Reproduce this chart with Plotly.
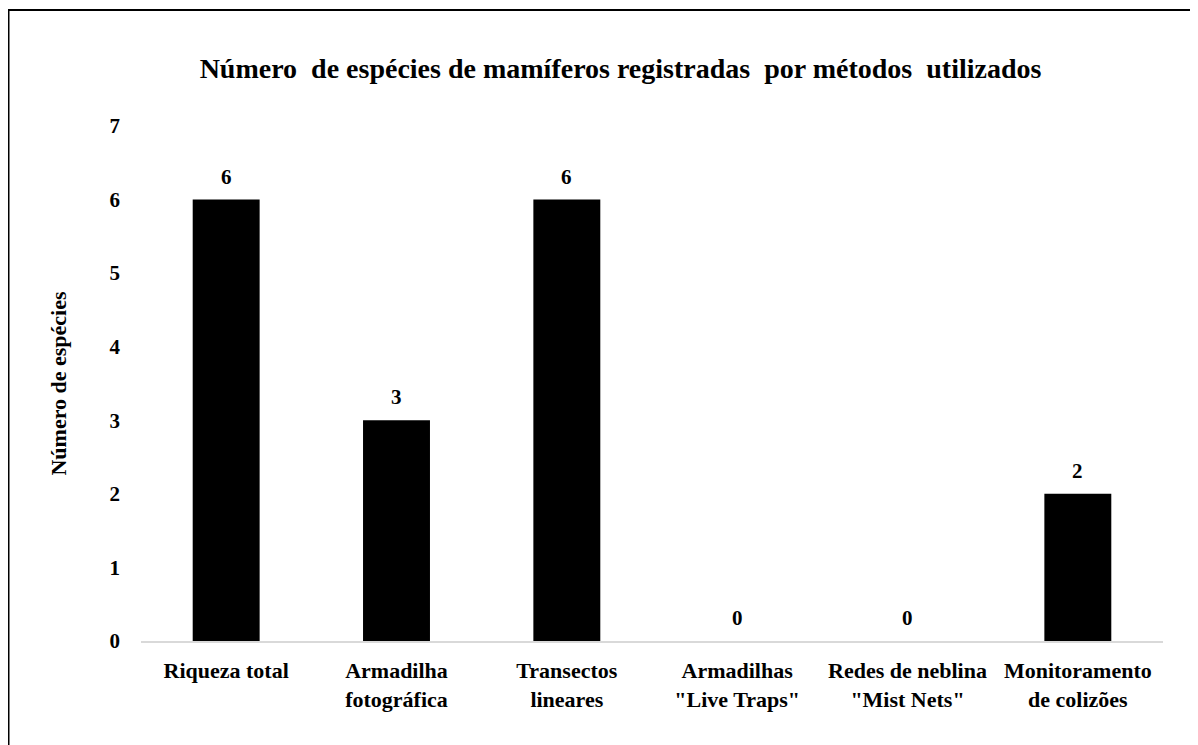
import plotly.graph_objects as go

categories = ["Riqueza total", "Armadilha<br>fotográfica", "Transectos<br>lineares",
              "Armadilhas<br>\"Live Traps\"", "Redes de neblina<br>\"Mist Nets\"",
              "Monitoramento<br>de colizões"]
values = [6, 3, 6, 0, 0, 2]
y_ticks = [0, 1, 2, 3, 4, 5, 6, 7]

# page has an 8px body margin, so the figure is 8px smaller than the window
W, H = 1190, 737
L, R, T, B = 133, 35, 118, 104
pw, ph = W - L - R, H - T - B

FAM = "Liberation Serif, Times New Roman, serif"

def f(size):
    return dict(family=FAM, size=size, color="black", weight="bold")

fig = go.Figure(go.Bar(
    x=categories, y=values, marker=dict(color="black", line=dict(width=0)),
    width=0.393, hoverinfo="y",
))

# value labels above the bars
for c, v in zip(categories, values):
    fig.add_annotation(x=c, y=v, text=str(v), showarrow=False,
                       yanchor="bottom", yshift=9, font=f(21))

NB = "\u00a0"
title_text = (f"Número{NB}{NB}de espécies de mamíferos registradas{NB}{NB}por "
              f"métodos{NB}{NB}utilizados")

fig.update_layout(
    width=W, height=H, margin=dict(l=L, r=R, t=T, b=B),
    paper_bgcolor="white", plot_bgcolor="white", showlegend=False,
    font=f(21),
    title=dict(text=title_text, x=612.5 / W, xanchor="center",
               y=1 - 60 / H, yanchor="middle", font=f(28)),
    xaxis=dict(showline=True, linecolor="#d9d9d9", linewidth=1.5, ticks="",
               tickfont=f(22), showgrid=False, ticklabelstandoff=9),
    yaxis=dict(range=[0, 7], tickvals=y_ticks, showgrid=False, zeroline=False,
               showline=False, ticks="", ticklabelstandoff=20,
               tickfont=f(21),
               title=dict(text="Número de espécies", standoff=36, font=f(22))),
)

# frame (left and top edges of the outer box)
fig.add_shape(type="line", xref="paper", yref="paper",
              x0=(0.5 - L) / pw, x1=(0.5 - L) / pw, y0=(H - 2 - B) / ph, y1=(0 - B) / ph,
              line=dict(color="black", width=2))
fig.add_shape(type="line", xref="paper", yref="paper",
              x0=(0 - L) / pw, x1=(W - L) / pw, y0=(H - 2 - B) / ph, y1=(H - 2 - B) / ph,
              line=dict(color="black", width=2))

fig.write_html("out.html")
